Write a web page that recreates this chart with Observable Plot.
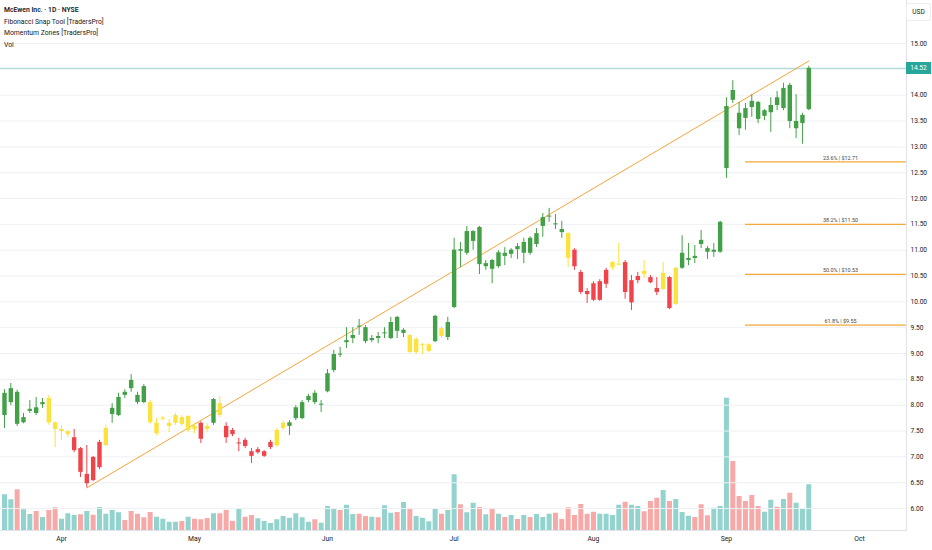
<!DOCTYPE html>
<html><head><meta charset="utf-8">
<script src="https://cdn.jsdelivr.net/npm/d3@7"></script>
<script src="https://cdn.jsdelivr.net/npm/@observablehq/plot@0.6"></script>
<style>
body{margin:0;background:#fff;}
#wrap{position:relative;width:932px;height:550px;overflow:hidden;font-family:Roboto,"Liberation Sans",sans-serif;color:#131722;}
#wrap svg{position:absolute;left:0;top:0;background:transparent;}
.legend{position:absolute;left:4px;top:5px;font-size:6.8px;line-height:11.7px;z-index:5;}
.legend .t{font-weight:600;}
.usd{position:absolute;left:906px;top:3px;width:23px;height:16px;border:1px solid #eceef2;border-radius:2px;font-size:6.5px;text-align:center;line-height:16px;z-index:5;background:#fff;}
.last{position:absolute;left:906px;width:25px;height:12px;background:#26a69a;color:#fff;font-size:6.6px;text-align:center;line-height:12px;z-index:6;}
</style></head><body>
<div id="wrap">
  <div class="legend"><div class="t">McEwen Inc. · 1D · NYSE</div><div>Fibonacci Snap Tool [TradersPro]</div><div>Momentum Zones [TradersPro]</div><div>Vol</div></div>
  <div class="usd">USD</div>
</div>
<script>
// daily bars, index 0 = first visible session (mid-March) ... index 127 = last session (Sep 19)
const opens  = [7.80,8.05,8.25,7.66,7.88,7.95,8.01,8.13,7.66,7.49,7.43,7.12,7.16,6.48,6.99,6.79,7.22,7.82,7.80,8.25,8.48,8.19,8.36,8.05,7.45,7.73,7.59,7.65,7.76,7.51,7.59,7.65,7.59,7.65,8.03,7.59,7.51,7.25,7.32,7.10,7.08,7.01,7.18,7.22,7.55,7.59,7.74,7.74,8.09,8.23,8.00,8.26,8.67,8.99,9.21,9.29,9.53,9.50,9.25,9.33,9.38,9.29,9.70,9.39,9.35,9.02,9.15,9.04,9.23,9.48,9.31,9.89,11.01,10.94,11.17,11.44,10.68,10.80,10.68,10.94,10.92,11.07,10.94,11.23,11.11,11.46,11.64,11.51,11.40,11.32,11.00,10.57,10.20,10.35,10.03,10.34,10.66,10.71,10.76,9.98,10.41,10.59,10.47,10.26,10.24,10.47,9.95,10.65,10.80,10.88,11.19,11.03,10.96,10.96,12.58,14.09,13.65,13.74,13.88,13.86,13.59,13.66,13.95,13.74,14.19,13.35,13.45,13.72];
const highs  = [8.30,8.42,8.29,7.84,8.09,8.15,8.13,8.19,7.68,7.61,7.51,7.53,7.18,7.22,7.01,7.32,7.61,8.03,8.23,8.30,8.59,8.25,8.40,8.09,7.74,7.78,7.72,7.84,7.80,7.80,7.65,7.68,7.65,8.13,8.17,7.66,7.55,7.36,7.36,7.16,7.18,7.12,7.32,7.55,7.70,7.70,7.99,8.09,8.21,8.28,8.09,8.69,9.06,9.12,9.50,9.50,9.66,9.54,9.35,9.41,9.50,9.70,9.72,9.48,9.37,9.31,9.19,9.19,9.74,9.52,9.70,11.23,11.15,11.46,11.38,11.46,10.80,10.82,10.99,11.05,11.03,11.13,11.23,11.26,11.42,11.71,11.81,11.69,11.56,11.34,11.03,10.61,10.26,10.39,10.43,10.65,10.78,11.13,10.80,10.51,10.57,10.80,10.51,10.47,10.76,10.49,10.67,11.28,11.13,11.09,11.38,11.07,11.13,11.56,13.95,14.28,13.86,13.84,14.01,13.88,13.72,13.95,14.07,14.23,14.23,14.01,13.65,14.56];
const lows   = [7.55,7.99,7.59,7.64,7.84,7.80,7.94,7.61,7.18,7.32,7.37,7.08,6.60,6.40,6.52,6.75,7.20,7.65,7.78,8.13,8.25,8.01,8.03,7.63,7.41,7.70,7.47,7.61,7.59,7.47,7.45,7.26,7.47,7.61,7.76,7.26,7.39,7.10,7.16,6.87,7.05,6.99,7.14,7.18,7.51,7.41,7.70,7.72,8.05,8.01,7.86,8.24,8.63,8.92,9.10,9.19,9.35,9.19,9.21,9.19,9.29,9.27,9.29,9.31,9.00,8.98,8.98,9.02,9.21,9.29,9.25,9.87,10.66,10.90,11.00,10.53,10.61,10.35,10.65,10.70,10.84,10.82,10.74,10.90,11.05,11.25,11.54,11.40,11.23,10.66,10.61,10.14,9.97,10.01,10.01,10.26,10.61,10.70,10.05,9.83,10.35,10.45,10.35,10.12,10.22,9.85,9.93,10.63,10.70,10.74,11.03,10.82,10.86,10.94,12.39,13.84,13.22,13.32,13.57,13.45,13.51,13.28,13.70,13.70,13.35,13.16,13.05,13.70];
const closes = [8.23,8.32,7.63,7.76,7.92,7.84,8.05,7.66,7.53,7.53,7.49,7.37,6.70,6.66,6.54,7.28,7.55,7.94,8.15,8.19,8.32,8.05,8.05,7.66,7.65,7.75,7.65,7.80,7.63,7.78,7.53,7.34,7.53,8.11,7.80,7.37,7.43,7.27,7.20,7.01,7.14,7.10,7.28,7.51,7.65,7.66,7.95,8.05,8.17,8.05,8.02,8.61,8.98,8.97,9.25,9.35,9.51,9.23,9.29,9.29,9.40,9.60,9.43,9.45,9.02,9.27,9.17,9.17,9.72,9.33,9.60,11.00,10.98,11.36,11.36,10.72,10.74,10.63,10.95,10.88,11.00,11.01,11.15,10.94,11.32,11.63,11.66,11.49,11.34,10.84,10.68,10.18,10.14,10.03,10.39,10.61,10.76,10.73,10.18,10.41,10.49,10.53,10.37,10.18,10.55,9.87,10.65,10.94,10.84,10.84,11.11,10.96,11.00,11.54,13.78,13.90,13.35,13.55,13.76,13.53,13.70,13.80,13.80,14.13,13.49,13.49,13.61,14.52];
// momentum zone per bar (10 bars per row): g = bullish, y = neutral, r = bearish
const zones = [
  "g","g","g","g","g","g","g","y","y","y",
  "y","r","r","r","r","r","y","g","g","g",
  "g","g","g","y","y","y","y","y","y","y",
  "y","r","y","g","y","r","r","r","r","r",
  "r","r","r","y","y","g","g","g","g","g",
  "g","g","g","g","g","g","g","g","g","g",
  "g","g","g","g","y","y","y","y","g","y",
  "g","g","g","g","g","g","g","g","g","g",
  "g","g","g","g","g","g","g","g","g","y",
  "r","r","r","r","r","r","y","y","r","r",
  "r","y","r","r","y","r","y","g","g","g",
  "g","g","g","g","g","g","g","g","g","g",
  "g","g","g","g","g","g","g","g"
];
const volumes = [1.43,1.23,1.63,0.83,0.64,0.76,0.52,0.80,0.91,0.45,0.67,0.60,0.63,0.76,0.61,0.92,0.65,0.80,0.71,0.40,0.76,0.65,0.51,0.72,0.53,0.45,0.33,0.33,0.36,0.53,0.45,0.43,0.48,0.67,0.67,0.80,0.37,0.84,0.53,0.60,0.47,0.36,0.28,0.43,0.56,0.49,0.67,0.51,0.33,0.43,0.29,0.96,0.88,0.80,1.01,0.64,0.65,0.56,0.53,0.51,0.99,0.69,0.72,1.12,0.84,0.56,0.49,0.35,0.85,0.65,0.80,2.23,1.03,0.71,1.09,0.92,0.63,0.88,0.65,0.52,0.60,0.44,0.60,0.52,0.64,0.52,0.65,0.69,0.44,0.91,0.60,1.04,0.65,0.73,0.65,0.65,0.60,1.01,1.13,1.01,0.96,0.75,1.16,1.29,1.60,1.16,1.24,0.72,0.57,0.52,1.03,0.59,0.89,0.96,5.29,2.76,1.36,1.16,1.40,0.96,0.73,1.21,0.93,1.24,1.49,1.09,0.85,1.83];
// time axis
const monthLabels = ["Apr","May","Jun","Jul","Aug","Sep","Oct"];
const monthIndex  = [9,30,51,71,93,114,135];
// price axis ticks
const priceTicks = d3.range(6, 15.01, 0.5);
// Fibonacci snap tool
const fibAnchorIndex = [13, 127];
const fibAnchorPrice = [6.40, 14.66];
const fibRatios = [0.236, 0.382, 0.5, 0.618];
const fibPrices = [12.71, 11.50, 10.53, 9.55];
const fibStartIndex = 117, fibEndIndex = 142.4, fibLabelIndex = 132;
const xDomain = [-0.63, 142.43];

const zoneColor = {g:"#43a047", y:"#fbe23c", r:"#f0434a"};
const bars = opens.map((o,i)=>({i, o, h:highs[i], l:lows[i], c:closes[i], z:zones[i], v:volumes[i], up: closes[i] >= opens[i]}));
const fibLine = fibAnchorIndex.map((i,k)=>({i, p:fibAnchorPrice[k]}));
const fibLevels = fibRatios.map((r,k)=>({r, p:fibPrices[k], label:`${(r*100).toFixed(1)}% | $${fibPrices[k].toFixed(2)}`}));
const lastClose = closes[closes.length-1];

const W = 932, H = 550;
const vol = Plot.plot({
  width:W, height:H, marginLeft:0, marginRight:26, marginTop:0, marginBottom:20,
  x:{domain:xDomain, axis:null}, y:{domain:[0,21.2], axis:null},
  marks:[
    Plot.ruleX(bars, {x:"i", y1:0, y2:"v", stroke:d=>d.up?"#92d3cd":"#f7a9a8", strokeWidth:5})
  ]
});
const price = Plot.plot({
  width:W, height:H, marginLeft:0, marginRight:26, marginTop:0, marginBottom:20,
  style:{background:"transparent", fontFamily:"Roboto, 'Liberation Sans', sans-serif", fontSize:"6.6px", color:"#131722"},
  x:{domain:xDomain, label:null}, y:{domain:[5.575,15.832], label:null},
  marks:[
    Plot.gridY(priceTicks, {stroke:"#eef0f4", strokeOpacity:1}),
    Plot.frame({anchor:"right", stroke:"#e0e3eb"}),
    Plot.frame({anchor:"bottom", stroke:"#e0e3eb"}),
    Plot.ruleY([lastClose], {stroke:"#26a69a", strokeOpacity:0.45}),
    Plot.line(fibLine, {x:"i", y:"p", stroke:"#f7a53a", strokeWidth:1}),
    Plot.ruleY(fibLevels, {y:"p", x1:fibStartIndex, x2:fibEndIndex, stroke:"#f2a93b", strokeWidth:1.2}),
    Plot.text(fibLevels, {y:"p", x:fibLabelIndex, text:"label", dy:-4, fontSize:5.4, fill:"#444", textAnchor:"middle"}),
    Plot.ruleX(bars, {x:"i", y1:"l", y2:"h", stroke:d=>zoneColor[d.z], strokeWidth:1}),
    Plot.ruleX(bars, {x:"i", y1:"o", y2:"c", stroke:d=>zoneColor[d.z], strokeWidth:4.4}),
    Plot.axisY(priceTicks, {anchor:"right", label:null, tickSize:0, tickPadding:4, tickFormat:d3.format(".2f"), fill:"#131722", fontSize:6.6}),
    Plot.axisX(monthIndex, {anchor:"bottom", label:null, tickSize:0, tickPadding:6, tickFormat:d=>monthLabels[monthIndex.indexOf(d)], fill:"#131722", fontSize:6.8})
  ]
});
const wrap = document.getElementById("wrap");
wrap.appendChild(vol);
wrap.appendChild(price);
const tag = document.createElement("div");
tag.className = "last";
tag.textContent = lastClose.toFixed(2);
tag.style.top = (price.scale("y").apply(lastClose) - 6) + "px";
wrap.appendChild(tag);
</script>
</body></html>
